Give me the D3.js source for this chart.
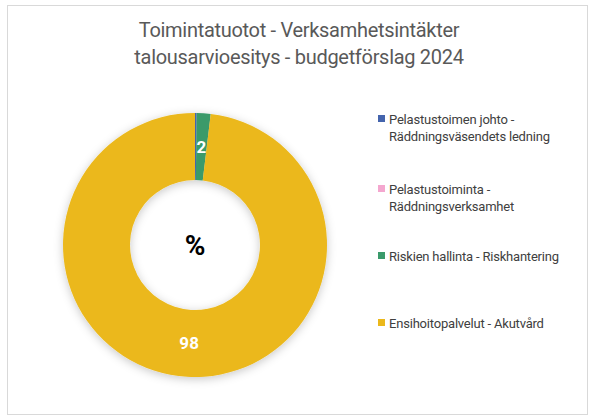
<!DOCTYPE html>
<html>
<head>
<meta charset="utf-8">
<script src="https://cdn.jsdelivr.net/npm/d3@7"></script>
<style>
  body { margin: 0; background: #fff; }
  svg { display: block; font-family: Roboto, "Liberation Sans", sans-serif; }
</style>
</head>
<body>
<svg id="chart" width="589" height="417"></svg>
<script>
// chart data
let title_lines = ["Toimintatuotot - Verksamhetsintäkter", "talousarvioesitys - budgetförslag 2024"]
let categories = [
  ["Pelastustoimen johto -", "Räddningsväsendets ledning"],
  ["Pelastustoiminta -", "Räddningsverksamhet"],
  ["Riskien hallinta - Riskhantering"],
  ["Ensihoitopalvelut - Akutvård"]
]
let values = [0.2, 0, 1.7, 98.1]
let colors = ["#4464ad", "#f4a7cf", "#3a9a6b", "#ebb81b"]
let center_label = "%"

let svg = d3.select("#chart")
let cx = 195
let cy = 245
let outer_r = 132
let inner_r = 65

// frame
svg.append("rect")
  .attr("x", 7.5).attr("y", 5.5)
  .attr("width", 580).attr("height", 409)
  .attr("fill", "#fff")
  .attr("stroke", "#d9d9d9")
  .attr("stroke-width", 1)

// soft shadow for the ring
let defs = svg.append("defs")
let f = defs.append("filter").attr("id", "shadow")
  .attr("x", "-20%").attr("y", "-20%").attr("width", "140%").attr("height", "140%")
f.append("feDropShadow")
  .attr("dx", 0).attr("dy", 2)
  .attr("stdDeviation", 5)
  .attr("flood-color", "#000")
  .attr("flood-opacity", 0.22)

// title
svg.append("g")
  .selectAll("text")
  .data(title_lines)
  .enter()
  .append("text")
  .attr("x", 299)
  .attr("y", (d, i) => 37 + i * 27)
  .attr("text-anchor", "middle")
  .attr("font-size", 20)
  .attr("letter-spacing", -0.3)
  .attr("fill", "#595959")
  .text(d => d)

let pie = d3.pie().sort(null).value(d => d)
let arcs = pie(values)
let arc = d3.arc().innerRadius(inner_r).outerRadius(outer_r)
let label_arc = d3.arc().innerRadius((inner_r + outer_r) / 2).outerRadius((inner_r + outer_r) / 2)

let ring = svg.append("g").attr("transform", `translate(${cx},${cy})`)

ring.append("g")
  .attr("filter", "url(#shadow)")
  .selectAll("path")
  .data(arcs)
  .enter()
  .append("path")
  .attr("d", arc)
  .attr("fill", (d, i) => colors[i])

ring.selectAll("text.val")
  .data(arcs.filter(d => d.value >= 1))
  .enter()
  .append("text")
  .attr("class", "val")
  .attr("transform", d => `translate(${label_arc.centroid(d)})`)
  .attr("dy", "0.36em")
  .attr("text-anchor", "middle")
  .attr("font-size", 17)
  .attr("font-weight", "bold")
  .attr("fill", "#fff")
  .text(d => Math.round(d.value))

ring.append("text")
  .attr("y", 0)
  .attr("dy", "0.36em")
  .attr("text-anchor", "middle")
  .attr("font-size", 28)
  .attr("font-weight", "bold")
  .attr("fill", "#000")
  .text(center_label)

// legend
let legend_y = [120, 190, 257, 324]
let legend = svg.append("g")
  .selectAll("g")
  .data(categories)
  .enter()
  .append("g")
  .attr("transform", (d, i) => `translate(378,${legend_y[i]})`)

legend.append("rect")
  .attr("x", 0).attr("y", -5)
  .attr("width", 7).attr("height", 7)
  .attr("fill", (d, i) => colors[i])

legend.selectAll("text")
  .data(d => d)
  .enter()
  .append("text")
  .attr("x", 11)
  .attr("y", (d, i) => i * 17)
  .attr("dy", "0.32em")
  .attr("font-size", 13)
  .attr("letter-spacing", -0.2)
  .attr("fill", "#404040")
  .text(d => d)
</script>
</body>
</html>
